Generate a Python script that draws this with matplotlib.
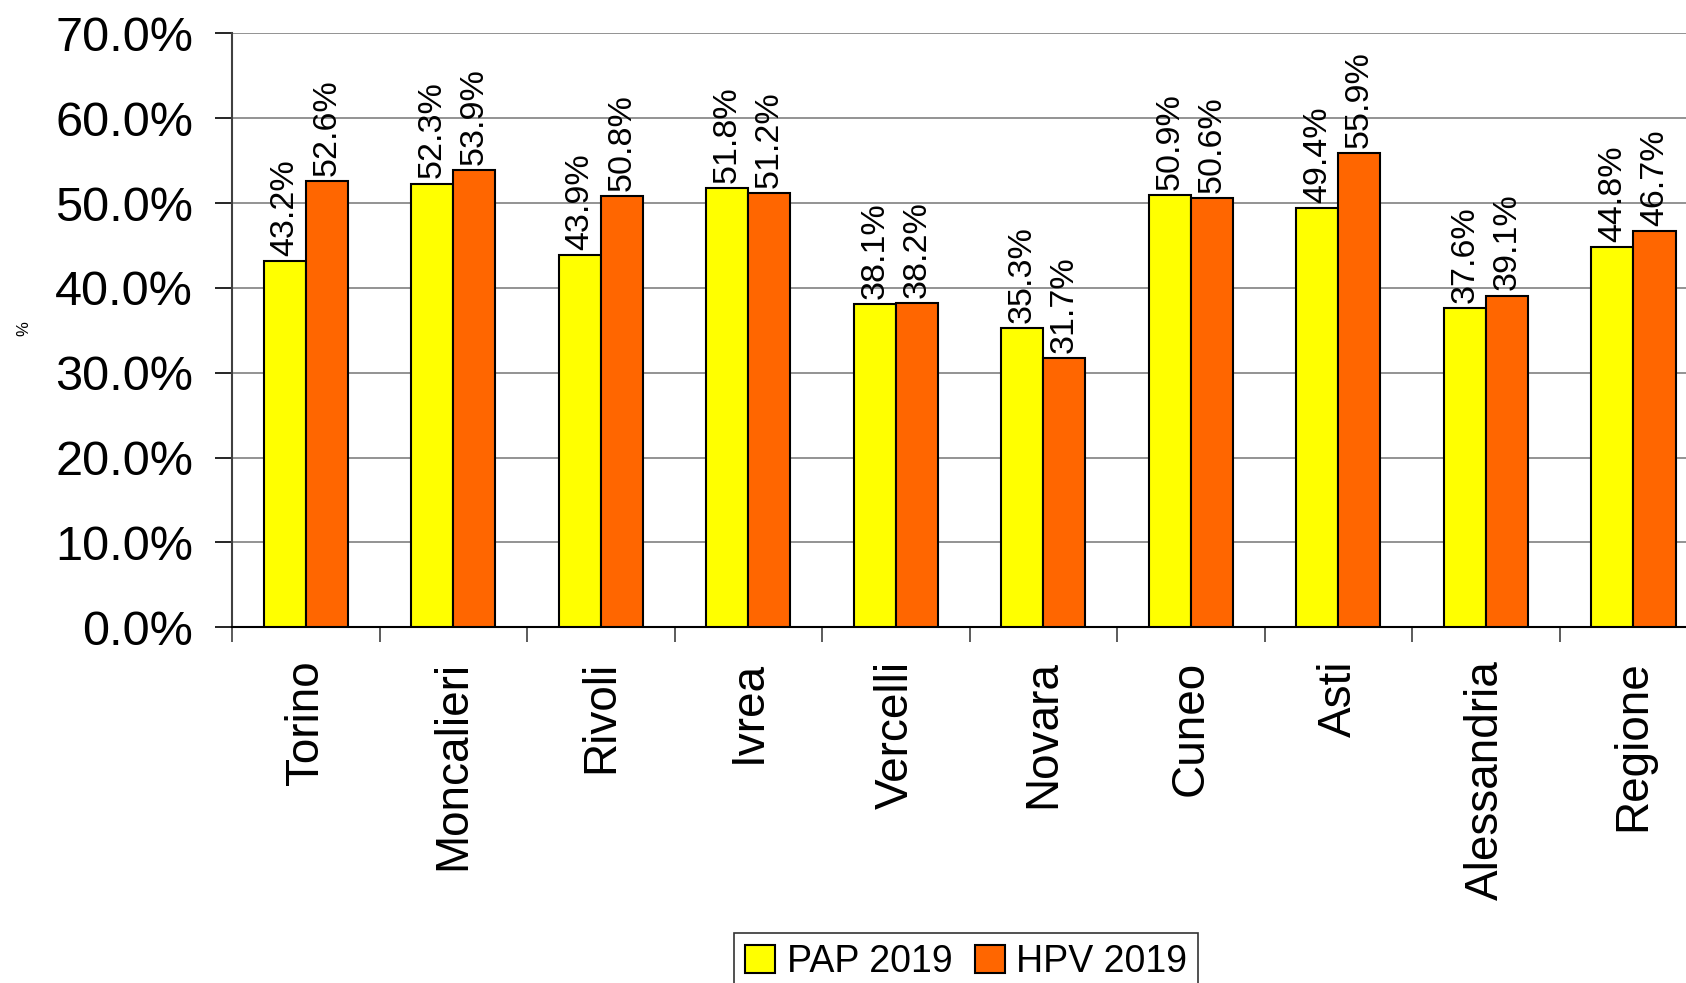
import numpy as np
import matplotlib
matplotlib.use('Agg')
import matplotlib.pyplot as plt
from matplotlib.ticker import FuncFormatter, FixedLocator

plt.rcParams['font.family'] = ['Liberation Sans', 'DejaVu Sans']

# data
areas = ['Torino', 'Moncalieri', 'Rivoli', 'Ivrea', 'Vercelli', 'Novara',
         'Cuneo', 'Asti', 'Alessandria', 'Regione']
pap_2019 = [43.2, 52.3, 43.9, 51.8, 38.1, 35.3, 50.9, 49.4, 37.6, 44.8]
hpv_2019 = [52.6, 53.9, 50.8, 51.2, 38.2, 31.7, 50.6, 55.9, 39.1, 46.7]
series_names = ['PAP 2019', 'HPV 2019']

yellow = '#FFFF00'
orange = '#FF6600'

fig = plt.figure(figsize=(16.86, 9.83), dpi=100)
# plot area runs past the right edge, like the reference crop
ax = fig.add_axes([0.1376, 0.362, 0.875, 0.604])

x = np.arange(len(areas)) + 0.5
w = 0.285

b1 = ax.bar(x - w, pap_2019, width=w, align='edge', color=yellow,
            edgecolor='black', linewidth=1.5, label=series_names[0], zorder=3)
b2 = ax.bar(x, hpv_2019, width=w, align='edge', color=orange,
            edgecolor='black', linewidth=1.5, label=series_names[1], zorder=3)

for bars, vals in ((b1, pap_2019), (b2, hpv_2019)):
    for rect, v in zip(bars, vals):
        ax.text(rect.get_x() + rect.get_width() / 2, v + 0.6, f'{v:.1f}%',
                rotation=90, ha='center', va='bottom', fontsize=24.5)

ax.set_xlim(0, len(areas))
ax.set_ylim(0, 70)
ax.set_yticks(np.arange(0, 71, 10))
ax.yaxis.set_major_formatter(FuncFormatter(lambda v, p: f'{v:.1f}%'))
ax.tick_params(axis='y', labelsize=35, length=12, width=1.2, pad=16,
               direction='out')
ax.grid(axis='y', color='#808080', linewidth=1.2, zorder=0)

# category boundaries as major ticks, names on minor ticks
ax.xaxis.set_major_locator(FixedLocator(np.arange(0, len(areas) + 1)))
ax.xaxis.set_minor_locator(FixedLocator(x))
ax.set_xticklabels([])
ax.set_xticklabels(areas, minor=True, rotation=90, fontsize=33, va='top',
                   ha='center')
ax.tick_params(axis='x', which='major', length=11, width=1.2, color='#404040')
ax.tick_params(axis='x', which='minor', length=0, pad=24)

ax.spines['top'].set_visible(False)
ax.spines['right'].set_visible(False)
ax.spines['left'].set(color='#404040', linewidth=1.5)
ax.spines['bottom'].set(color='black', linewidth=1.5)

fig.text(0.014, 0.666, '%', rotation=90, fontsize=12, ha='center', va='center')

leg = fig.legend(handles=[b1, b2], loc='upper center',
                 bbox_to_anchor=(0.573, 0.051), ncol=2, fontsize=27,
                 frameon=True, fancybox=False, edgecolor='black',
                 handlelength=0.8, handleheight=0.8, handletextpad=0.3,
                 columnspacing=0.6, borderpad=0.3, borderaxespad=0)
leg.get_frame().set_linewidth(1.2)

fig.savefig('out.png', dpi=100)
